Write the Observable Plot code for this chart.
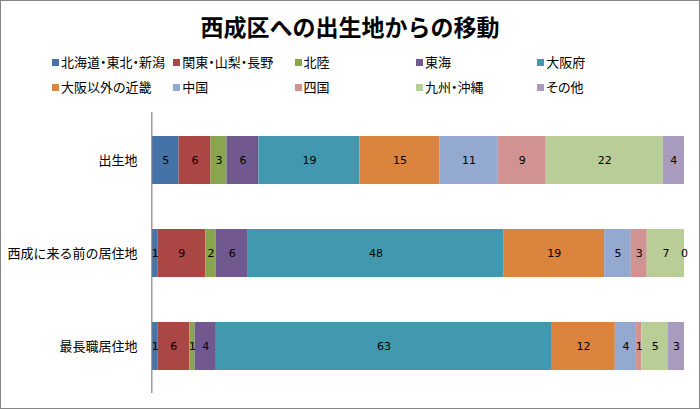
<!DOCTYPE html>
<html>
<head>
<meta charset="utf-8">
<script src="https://cdn.jsdelivr.net/npm/d3@7"></script>
<script src="https://cdn.jsdelivr.net/npm/@observablehq/plot@0.6"></script>
<style>
  html, body { margin: 0; padding: 0; background: #fff; }
  #wrap { position: relative; width: 700px; height: 409px; overflow: hidden; background: #fff; }
  #frame { position: absolute; left: 0; top: 0; width: 700px; height: 409px; box-sizing: border-box; border: 1px solid #868686; pointer-events: none; z-index: 5; }
  #title { position: absolute; left: 0; width: 700px; top: 12px; text-align: center; font-family: "Noto Sans CJK JP", sans-serif; font-weight: bold; font-size: 23px; line-height: 28px; color: #000; }
  .leg { position: absolute; font-family: "Noto Sans CJK JP", sans-serif; font-size: 13px; line-height: 16px; color: #000; font-feature-settings: "palt"; white-space: nowrap; }
  .sw { position: absolute; width: 7px; height: 7px; }
  #chart { position: absolute; left: 0; top: 100px; }
</style>
</head>
<body>
<div id="wrap">
  <div id="frame"></div>
  <div id="title">西成区への出生地からの移動</div>
  <div id="legend"></div>
  <div id="chart"></div>
</div>
<script>
const categories = ["出生地", "西成に来る前の居住地", "最長職居住地"];
const regions = ["北海道・東北・新潟", "関東・山梨・長野", "北陸", "東海", "大阪府", "大阪以外の近畿", "中国", "四国", "九州・沖縄", "その他"];
const colors = ["#4572A7", "#AA4643", "#89A54E", "#71588F", "#4198AF", "#DB843D", "#93A9CF", "#D19392", "#B9CD96", "#A99BBD"];
const birthplace = [5, 6, 3, 6, 19, 15, 11, 9, 22, 4];
const beforeNishinari = [1, 9, 2, 6, 48, 19, 5, 3, 7, 0];
const longestJob = [1, 6, 1, 4, 63, 12, 4, 1, 5, 3];

const series = [birthplace, beforeNishinari, longestJob];
const data = [];
categories.forEach((c, i) => {
  regions.forEach((r, j) => {
    data.push({cat: c, region: r, value: series[i][j]});
  });
});

// legend
const legend = document.getElementById("legend");
regions.forEach((r, j) => {
  const row = Math.floor(j / 5), col = j % 5;
  const x = 52 + col * 121.3;
  const y = 62 + row * 25;
  const sw = document.createElement("div");
  sw.className = "sw";
  sw.style.left = x + "px";
  sw.style.top = (y - 3.5) + "px";
  sw.style.background = colors[j];
  legend.appendChild(sw);
  const t = document.createElement("div");
  t.className = "leg";
  t.style.left = (x + 9) + "px";
  t.style.top = (y - 8.5) + "px";
  t.textContent = r;
  legend.appendChild(t);
});

const plot = Plot.plot({
  width: 700,
  height: 308,
  marginTop: 12,
  marginBottom: 15,
  marginLeft: 152,
  marginRight: 16,
  style: {fontFamily: "'Noto Sans CJK JP', sans-serif", background: "transparent"},
  x: {domain: [0, 100], axis: null},
  y: {domain: categories, paddingInner: 0.488, paddingOuter: 0.244, label: null, tickSize: 0, tickPadding: 15, fontSize: 13},
  color: {domain: regions, range: colors},
  marks: [
    Plot.axisY({tickSize: 0, tickPadding: 15, fontSize: 13, label: null, fontFamily: "'Noto Sans CJK JP', sans-serif", fill: "#000"}),
    Plot.barX(data, Plot.stackX({x: "value", y: "cat", fill: "region", order: null})),
    Plot.text(data, Plot.stackX({x: "value", y: "cat", z: "region", text: d => String(d.value), order: null, fill: "#000", fontSize: 11, fontFamily: "'DejaVu Sans', sans-serif"})),
    Plot.ruleX([0], {stroke: "#868686", strokeWidth: 1.2, dx: -0.7})
  ]
});
document.getElementById("chart").appendChild(plot);
</script>
</body>
</html>
